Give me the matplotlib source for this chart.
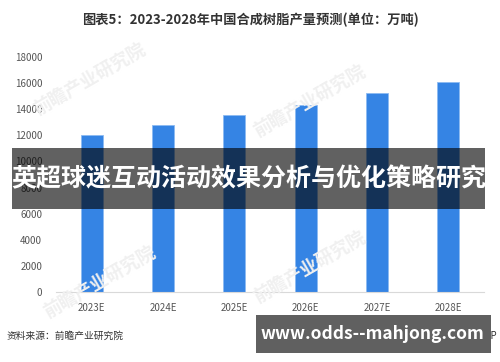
"""Recreate: 2023-2028 China synthetic resin output forecast bar chart."""
import matplotlib
matplotlib.use("Agg")
import matplotlib.pyplot as plt
from matplotlib.patches import Rectangle

plt.rcParams["font.family"] = ["Noto Sans CJK SC", "DejaVu Sans"]

years = ["2023E", "2024E", "2025E", "2026E", "2027E", "2028E"]
output = [12020, 12790, 13550, 14320, 15210, 16080]
yticks = [0, 2000, 4000, 6000, 8000, 10000, 12000, 14000, 16000, 18000]

TITLE = "图表5：2023-2028年中国合成树脂产量预测(单位：万吨)"
SOURCE = "资料来源：前瞻产业研究院"
BRAND = "前瞻经济学人APP"
BANNER = "英超球迷互动活动效果分析与优化策略研究"
SITE = "www.odds--mahjong.com"
WATERMARK = "前瞻产业研究院"

fig = plt.figure(figsize=(5, 3.62), dpi=100)
ax = fig.add_axes([0.112, 0.193, 0.856, 0.650])

x = range(len(years))
ax.bar(x, output, width=0.31, color="#3584e4", edgecolor="#8dbaf2",
       linewidth=0.6, zorder=2)

ax.set_xlim(-0.5, len(years) - 0.5)
ax.set_ylim(0, 18000)
ax.set_yticks(yticks)
ax.set_yticklabels([str(v) for v in yticks])
ax.set_xticks(list(x))
ax.set_xticklabels(years)
ax.tick_params(axis="both", length=0, labelsize=7, labelcolor="#555555")
ax.tick_params(axis="y", pad=10)
ax.tick_params(axis="x", pad=8)
for s in ["top", "right", "left"]:
    ax.spines[s].set_visible(False)
ax.spines["bottom"].set_color("#d9d9d9")
ax.spines["bottom"].set_linewidth(0.8)

# faint diagonal watermarks
for wx, wy in [(0.18, 0.78), (0.62, 0.72), (0.20, 0.22), (0.62, 0.26)]:
    fig.text(wx, wy, WATERMARK, fontsize=13, color="#f0f0f0", rotation=30,
             ha="center", va="center", fontweight="bold", zorder=0)

fig.text(0.5, 0.944, TITLE, ha="center", va="center", fontsize=9.5,
         fontweight="bold", color="#333333")
fig.text(0.014, 0.072, SOURCE, ha="left", va="center", fontsize=7,
         color="#333333")
fig.text(0.995, 0.072, BRAND, ha="right", va="center", fontsize=7,
         color="#333333")

# overlays
fig.patches.append(Rectangle((0.024, 1 - 209 / 362), 0.946, 61 / 362,
                             transform=fig.transFigure, facecolor="black",
                             alpha=0.62, zorder=5))
fig.text(0.497, 1 - 179 / 362, BANNER, ha="center", va="center",
         fontsize=18, fontweight="bold", color="white", zorder=6)
fig.patches.append(Rectangle((0.512, 1 - 353 / 362), 0.47, 38 / 362,
                             transform=fig.transFigure, facecolor="#606060",
                             zorder=5))
fig.text(0.744, 1 - 334 / 362, SITE, ha="center", va="center",
         fontsize=12.5, fontweight="bold", color="white", zorder=6)

fig.savefig("out.png", dpi=100)
